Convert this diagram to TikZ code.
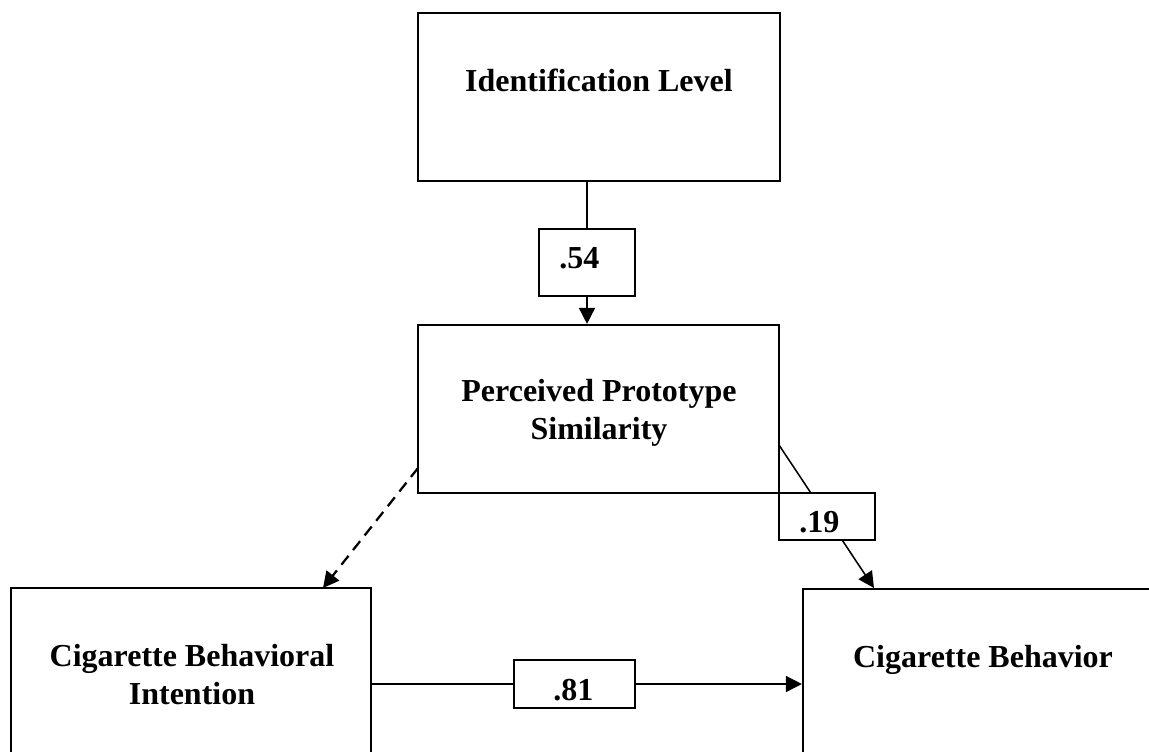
\documentclass[tikz,border=0pt]{standalone}
\usepackage{fontspec}
\setmainfont{Liberation Serif}
\usetikzlibrary{arrows.meta}
\begin{document}
\begin{tikzpicture}[x=0.75pt,y=-0.75pt,
  varbox/.style={draw, line width=1.6pt, fill=white, inner sep=0pt,
    minimum width=271pt, minimum height=126pt},
  coefbox/.style={draw, line width=1.4pt, fill=white, inner sep=0pt},
  boxtext/.style={inner sep=0pt, align=center, font=\bfseries\fontsize{24}{27.8}\selectfont},
  coeftext/.style={inner sep=0pt, anchor=base west, font=\bfseries\fontsize{24}{27.8}\selectfont},
  path/.style={line width=1.15pt, -{Triangle[length=12pt,width=12pt]}},
  nsig/.style={line width=1.7pt, dash pattern=on 8.5pt off 5.5pt, -{Triangle[length=12pt,width=12pt]}}]
\useasboundingbox (0,0) rectangle (1149,751);
\clip (0,0) rectangle (1149,751);

% variable boxes
\node[varbox] (ident) at (599,97) {};
\node[varbox] (percv) at (598.5,409) {};
\node[varbox, minimum width=270pt] (intent) at (191,672) {};
\node[varbox, minimum width=270pt] (behav) at (983,673) {};

% box captions (base = baseline of the last line)
\node[boxtext, anchor=base] (identT) at (599,91) {Identification Level};
\node[boxtext, anchor=base] (percvT) at (599,439) {Perceived Prototype\\Similarity};
\node[boxtext, anchor=base] (intentT) at (192,704) {Cigarette Behavioral\\Intention};
\node[boxtext, anchor=base] (behavT) at (983,667) {Cigarette Behavior};

% end points of the slanted paths
\coordinate (s19) at (779,445);
\coordinate (e19) at (874,588);
\coordinate (sNS) at (418,468);
\coordinate (eNS) at (323,588);

% coefficient box positions (drawn over the paths)
\coordinate (c54) at (587,262.5);
\coordinate (c81) at (574.5,684);
\coordinate (c19) at (827,516.5);

% paths
\draw[path] (ident.south -| c54) -- (percv.north -| c54);
\draw[path] (intent.east |- c81) -- (behav.west |- c81);
\draw[path] (s19) -- (e19);
\draw[nsig] (sNS) -- (eNS);

% path coefficients
\node[coefbox, minimum width=72pt, minimum height=50.25pt] (b54) at (c54) {};
\node[coefbox, minimum width=90.75pt, minimum height=36pt] (b81) at (c81) {};
\node[coefbox, minimum width=72pt, minimum height=35.25pt] (b19) at (c19) {};
\node[coeftext] (t54) at (559,268) {.54};
\node[coeftext] (t81) at (553,700) {.81};
\node[coeftext] (t19) at (799,532) {.19};
\end{tikzpicture}
\end{document}
